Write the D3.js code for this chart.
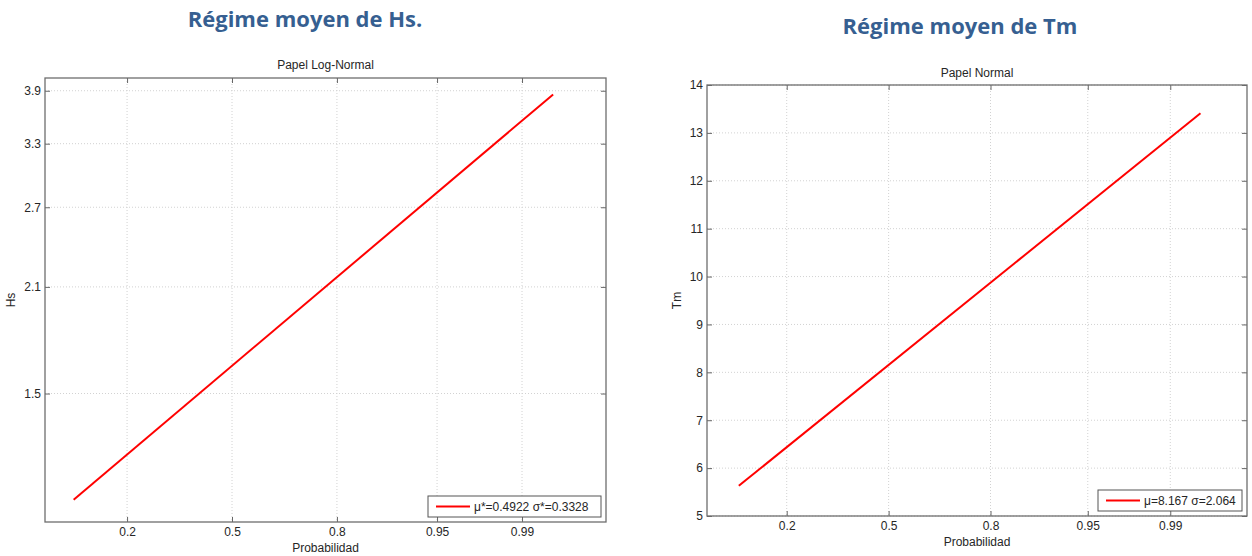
<!DOCTYPE html>
<html>
<head>
<meta charset="utf-8">
<script src="https://cdn.jsdelivr.net/npm/d3@7"></script>
<style>
  body { margin: 0; background: #fff; }
  svg { display: block; }
  .tick text { font-family: "Liberation Sans", Arial, sans-serif; font-size: 12px; fill: #262626; }
  .lbl { font-family: "Liberation Sans", Arial, sans-serif; font-size: 12px; fill: #262626; }
  .title { font-family: "Open Sans", Lato, sans-serif; font-weight: 700; font-size: 22px; fill: #365F91; }
</style>
</head>
<body>
<div id="chart"></div>
<script>
// values
var probTicks = [0.2, 0.5, 0.8, 0.95, 0.99];

var hsProb = [0.102, 0.995];
var hsValues = [1.073, 3.855];
var hsTicks = [1.5, 2.1, 2.7, 3.3, 3.9];

var tmProb = [0.108, 0.995];
var tmValues = [5.63, 13.41];
var tmTicks = [5, 6, 7, 8, 9, 10, 11, 12, 13, 14];

var svg = d3.select("#chart")
    .append("svg")
    .attr("width", 1252)
    .attr("height", 556);

// inverse normal cdf (Acklam) - used for the probability paper axis
function probit(p) {
    var a = [-39.69683028665376, 220.9460984245205, -275.9285104469687, 138.3577518672690, -30.66479806614716, 2.506628277459239];
    var b = [-54.47609879822406, 161.5858368580409, -155.6989798598866, 66.80131188771972, -13.28068155288572];
    var c = [-0.007784894002430293, -0.3223964580411365, -2.400758277161838, -2.549732539343734, 4.374664141464968, 2.938163982698783];
    var d = [0.007784695709041462, 0.3224671290700398, 2.445134137142996, 3.754408661907416];
    var pl = 0.02425, q, r;
    if (p < pl) {
        q = Math.sqrt(-2 * Math.log(p));
        return (((((c[0]*q+c[1])*q+c[2])*q+c[3])*q+c[4])*q+c[5]) / ((((d[0]*q+d[1])*q+d[2])*q+d[3])*q+1);
    }
    if (p > 1 - pl) {
        q = Math.sqrt(-2 * Math.log(1 - p));
        return -(((((c[0]*q+c[1])*q+c[2])*q+c[3])*q+c[4])*q+c[5]) / ((((d[0]*q+d[1])*q+d[2])*q+d[3])*q+1);
    }
    q = p - 0.5; r = q * q;
    return (((((a[0]*r+a[1])*r+a[2])*r+a[3])*r+a[4])*r+a[5])*q / (((((b[0]*r+b[1])*r+b[2])*r+b[3])*r+b[4])*r+1);
}

var panels = [
    {
        title: "Régime moyen de Hs.", titleX: 305, titleY: 27,
        sub: "Papel Log-Normal", subY: 65,
        ylab: "Hs", ylabX: 11,
        left: 45, right: 606, top: 78, bottom: 522,
        zDomain: [-1.5, 3],
        y: d3.scaleLog().domain([1.0, 4.06]),
        yTicks: hsTicks, yFmt: d3.format(".1f"),
        prob: hsProb, vals: hsValues,
        legend: "μ*=0.4922 σ*=0.3328", legW: 173,
        xlabY: 548
    },
    {
        title: "Régime moyen de Tm", titleX: 960, titleY: 34,
        sub: "Papel Normal", subY: 73,
        ylab: "Tm", ylabX: 677,
        left: 707, right: 1247, top: 85, bottom: 516,
        zDomain: [-1.5, 2.96],
        y: d3.scaleLinear().domain([5, 14]),
        yTicks: tmTicks, yFmt: d3.format("d"),
        prob: tmProb, vals: tmValues,
        legend: "μ=8.167 σ=2.064", legW: 144,
        xlabY: 542
    }
];

panels.forEach(drawPanel);

function drawPanel(p) {
    var zx = d3.scaleLinear().domain(p.zDomain).range([p.left, p.right]);
    var x = function (v) { return zx(probit(v)); };
    var y = p.y.range([p.bottom, p.top]);
    var w = p.right - p.left, h = p.bottom - p.top;

    var g = svg.append("g");

    // heading above the figure
    g.append("text")
        .attr("class", "title")
        .attr("x", p.titleX)
        .attr("y", p.titleY)
        .attr("text-anchor", "middle")
        .text(p.title);

    g.append("text")
        .attr("class", "lbl")
        .attr("x", (p.left + p.right) / 2)
        .attr("y", p.subY)
        .attr("dy", "0.35em")
        .attr("text-anchor", "middle")
        .text(p.sub);

    // grid
    g.selectAll(".vgrid").data(probTicks).enter()
        .append("line")
        .attr("x1", function (d) { return x(d); })
        .attr("x2", function (d) { return x(d); })
        .attr("y1", p.top).attr("y2", p.bottom)
        .attr("stroke", "#d2d2d2")
        .attr("stroke-dasharray", "1,2");

    g.selectAll(".hgrid").data(p.yTicks).enter()
        .append("line")
        .attr("y1", function (d) { return y(d); })
        .attr("y2", function (d) { return y(d); })
        .attr("x1", p.left).attr("x2", p.right)
        .attr("stroke", "#d2d2d2")
        .attr("stroke-dasharray", "1,2");

    // axes, ticks pointing inward
    var xs = d3.scaleLinear().domain(p.zDomain).range([p.left, p.right]);
    var xTickZ = probTicks.map(probit);
    var fmtProb = function (z) { return probTicks[xTickZ.indexOf(z)]; };

    g.append("g")
        .attr("transform", "translate(0," + p.bottom + ")")
        .call(d3.axisBottom(xs).tickValues(xTickZ).tickFormat(fmtProb).tickSize(-5).tickPadding(5));
    g.append("g")
        .attr("transform", "translate(0," + p.top + ")")
        .call(d3.axisTop(xs).tickValues(xTickZ).tickFormat("").tickSize(-5));
    g.append("g")
        .attr("transform", "translate(" + p.left + ",0)")
        .call(d3.axisLeft(y).tickValues(p.yTicks).tickFormat(p.yFmt).tickSize(-5).tickPadding(4));
    g.append("g")
        .attr("transform", "translate(" + p.right + ",0)")
        .call(d3.axisRight(y).tickValues(p.yTicks).tickFormat("").tickSize(-5));

    g.selectAll(".domain").remove();
    g.selectAll(".tick line").attr("stroke", "#666");

    g.append("rect")
        .attr("x", p.left).attr("y", p.top)
        .attr("width", w).attr("height", h)
        .attr("fill", "none")
        .attr("stroke", "#6e6e6e")
        .attr("stroke-width", 1.3);

    // labels
    g.append("text")
        .attr("class", "lbl")
        .attr("x", (p.left + p.right) / 2)
        .attr("y", p.xlabY)
        .attr("dy", "0.35em")
        .attr("text-anchor", "middle")
        .text("Probabilidad");

    g.append("text")
        .attr("class", "lbl")
        .attr("transform", "translate(" + p.ylabX + "," + (p.top + h / 2) + ") rotate(-90)")
        .attr("dy", "0.35em")
        .attr("text-anchor", "middle")
        .text(p.ylab);

    // fitted line
    var pts = p.prob.map(function (v, i) { return { p: v, v: p.vals[i] }; });
    var line = d3.line()
        .x(function (d) { return x(d.p); })
        .y(function (d) { return y(d.v); });

    g.append("path")
        .datum(pts)
        .attr("fill", "none")
        .attr("stroke", "#ff0000")
        .attr("stroke-width", 2)
        .attr("d", line);

    // legend in the lower right corner
    var lx = p.right - 5 - p.legW, ly = p.bottom - 5 - 21;
    var leg = g.append("g").attr("transform", "translate(" + lx + "," + ly + ")");
    leg.append("rect")
        .attr("width", p.legW).attr("height", 21)
        .attr("fill", "#fff")
        .attr("stroke", "#555")
        .attr("stroke-width", 1);
    leg.append("line")
        .attr("x1", 8).attr("x2", 42)
        .attr("y1", 10.5).attr("y2", 10.5)
        .attr("stroke", "#ff0000")
        .attr("stroke-width", 2);
    leg.append("text")
        .attr("class", "lbl")
        .attr("x", 46).attr("y", 10.5)
        .attr("dy", "0.35em")
        .text(p.legend);
}
</script>
</body>
</html>
